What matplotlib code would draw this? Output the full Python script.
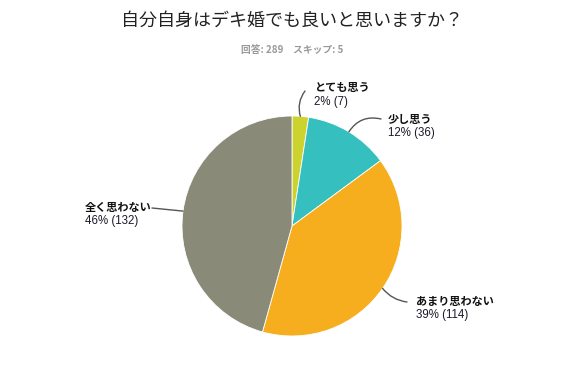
import matplotlib
matplotlib.use("Agg")
import matplotlib.pyplot as plt
import numpy as np

plt.rcParams['font.family'] = ['Noto Sans CJK JP', 'DejaVu Sans']

categories = ["とても思う", "少し思う", "あまり思わない", "全く思わない"]
counts = [7, 36, 114, 132]
percents = ["2%", "12%", "39%", "46%"]
colors = ["#CDD32E", "#35BFBF", "#F6AE1F", "#8A8A79"]
title = "自分自身はデキ婚でも良いと思いますか？"
subtitle = "回答: 289　スキップ: 5"

W, H = 581, 372
fig = plt.figure(figsize=(W / 100, H / 100), dpi=100)
ax = fig.add_axes([0, 0, 1, 1])

cx, cy, r = 292, H - 226, 110
wedges, _ = ax.pie(counts, colors=colors, startangle=90, counterclock=False,
                   center=(cx, cy), radius=r, frame=True,
                   wedgeprops=dict(linewidth=0.6, edgecolor='white'))
ax.set_xlim(0, W)
ax.set_ylim(0, H)
ax.set_aspect('equal')
ax.axis('off')

# label anchor positions (image coords: x, y-from-top of first line)
label_pos = [(314, 88), (388, 119), (416, 301), (85, 207)]
line_end = [(305, 91), (381, 119), (407, 302), (152, 208)]
rads = [0.25, 0.35, -0.2, 0.0]

total = sum(counts)
cum = 0
for i, c in enumerate(counts):
    mid = 90 - (cum + c / 2) / total * 360
    cum += c
    px = cx + r * np.cos(np.radians(mid))
    py = cy + r * np.sin(np.radians(mid))
    ex, ey = line_end[i]
    ax.annotate("", xy=(px, py), xytext=(ex, H - ey),
                arrowprops=dict(arrowstyle='-', color='#555555', lw=1.0,
                                shrinkA=0, shrinkB=0,
                                connectionstyle=f"arc3,rad={rads[i]}"))
    lx, ly = label_pos[i]
    ax.text(lx, H - ly, categories[i], fontsize=8, fontweight='bold',
            color='#111111', ha='left', va='center')
    ax.text(lx, H - ly - 14, f"{percents[i]} ({c})", fontsize=8.3,
            color='#1a1a2a', ha='left', va='center', family='Liberation Sans')

fig.text(292 / W, 1 - 21 / H, title, fontsize=13, ha='center', va='center',
         color='#222222')
fig.text(292 / W, 1 - 50 / H, subtitle, fontsize=7, ha='center', va='center',
         color='#999999', fontweight='bold')

fig.savefig("out.png", dpi=100)
